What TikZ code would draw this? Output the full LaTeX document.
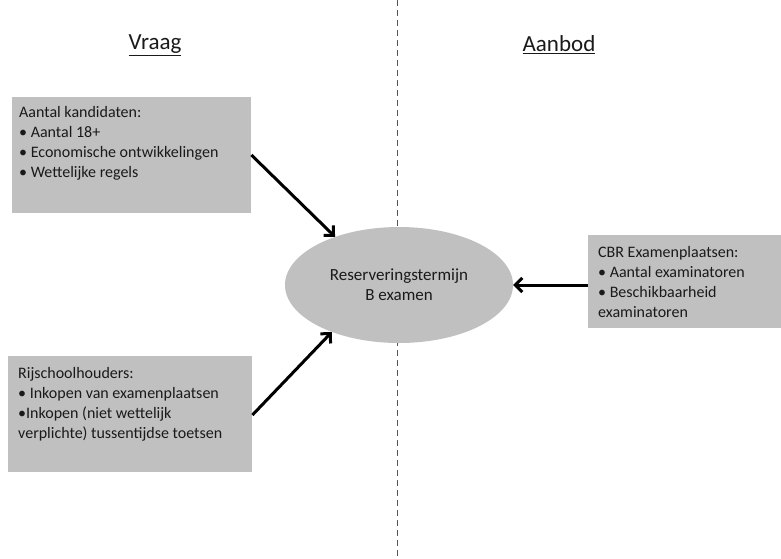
\documentclass[tikz,border=0pt]{standalone}
\usepackage{fontspec}
\setmainfont{Carlito}
\usetikzlibrary{arrows.meta,shapes.geometric}
\definecolor{boxgray}{HTML}{C0C0C0}
\definecolor{txt}{HTML}{1A1A1A}
\definecolor{dashcol}{HTML}{555555}
\begin{document}
\begin{tikzpicture}[x=1pt,y=-1pt,
  panel/.style={fill=boxgray, draw=none, inner sep=0pt, anchor=north west},
  listtext/.style={anchor=north west, align=left, inner sep=0pt, text=txt,
    font=\fontsize{16}{20}\selectfont},
  head/.style={text=txt, font=\fontsize{23}{26}\selectfont, inner sep=0pt},
  arr/.style={line width=3pt, -{Straight Barb[length=7pt,width=14pt]}},
  divider/.style={draw=dashcol, line width=0.8pt, dash pattern=on 6pt off 4pt}]
\useasboundingbox (0,0) rectangle (781,558);
\fill[white] (0,0) rectangle (781,558);

% divider
\coordinate (dtop) at (397,0);
\coordinate (dbot) at (397,558);
\draw[divider] (dtop) -- (dbot);

% headers
\node[head] (vraag) at (155,45) {\underline{Vraag}};
\node[head] (aanbod) at (559,45) {\underline{Aanbod}};

% boxes
\node[panel, minimum width=239pt, minimum height=116pt] (kand) at (12,97) {};
\node[listtext] (kandtxt) at (19,106) {Aantal kandidaten:\\
  • Aantal 18+\\
  • Economische ontwikkelingen\\
  • Wettelijke regels};

\node[panel, minimum width=244pt, minimum height=116pt] (rijs) at (8,356) {};
\node[listtext] (rijstxt) at (18,367) {Rijschoolhouders:\\
  • Inkopen van examenplaatsen\\
  •Inkopen (niet wettelijk\\
  verplichte) tussentijdse toetsen};

\node[panel, minimum width=193pt, minimum height=93pt] (cbr) at (588,235) {};
\node[listtext] (cbrtxt) at (598,246) {CBR Examenplaatsen:\\
  • Aantal examinatoren\\
  • Beschikbaarheid\\
  examinatoren};

% ellipse
\node[ellipse, fill=boxgray, draw=none, minimum width=228pt, minimum height=116pt,
  align=center, text=txt, font=\fontsize{17}{20}\selectfont, inner sep=0pt]
  (res) at (399,285) {Reserveringstermijn\\B examen};

% arrows
\draw[arr] (kand.east |- 0,155) -- (res.143);
\draw[arr] (rijs.east |- 0,415) -- (res.215);
\draw[arr] (cbr.west |- res.east) -- (res.east);
\end{tikzpicture}
\end{document}
